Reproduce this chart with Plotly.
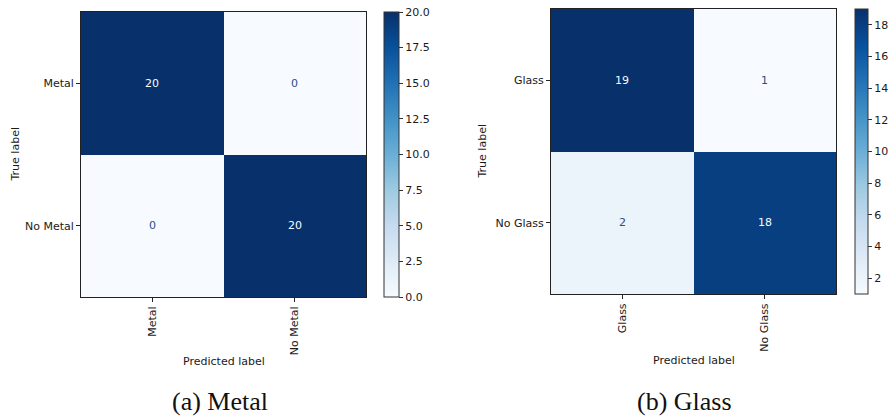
import plotly.graph_objects as go
import plotly.express as px

# Confusion matrices (rows = true label, columns = predicted label)
metal_labels = ["Metal", "No Metal"]
metal_counts = [[20, 0],
                [0, 20]]

glass_labels = ["Glass", "No Glass"]
glass_counts = [[19, 1],
                [2, 18]]

captions = ["(a) Metal", "(b) Glass"]

W, H = 889, 416
BLUES = px.colors.sequential.Blues
FONT = "DejaVu Sans"
TXT = "#1a1a1a"

# pixel boxes of each matrix: (left, right, top, bottom), colorbar (left, thickness)
panels = [
    dict(labels=metal_labels, z=metal_counts, box=(81, 366, 12, 297), cb=(384, 15),
         cbticks=dict(tickmode="linear", tick0=0, dtick=2.5, tickformat=".1f"),
         ylab_x=15, xlab_y=361, cap_x=220),
    dict(labels=glass_labels, z=glass_counts, box=(551, 836, 9, 294), cb=(855, 13),
         cbticks=dict(tickmode="linear", tick0=2, dtick=2),
         ylab_x=482, xlab_y=360, cap_x=684),
]

fig = go.Figure()
annotations = []

for i, p in enumerate(panels, start=1):
    xa = "x" if i == 1 else f"x{i}"
    ya = "y" if i == 1 else f"y{i}"
    l, r, t, b = p["box"]
    flat = [v for row in p["z"] for v in row]
    zmin, zmax = min(flat), max(flat)
    n = len(p["labels"])
    idx = list(range(n))

    fig.add_trace(go.Heatmap(
        z=p["z"], x=idx, y=idx, xaxis=xa, yaxis=ya,
        colorscale=BLUES, zmin=zmin, zmax=zmax, hoverinfo="skip",
        colorbar=dict(
            x=p["cb"][0] / W, xanchor="left", xpad=0,
            y=1 - t / H, yanchor="top", ypad=0,
            len=b - t, lenmode="pixels", thickness=p["cb"][1],
            outlinewidth=1, outlinecolor="#333",
            ticks="outside", ticklen=4, tickcolor="#333",
            tickfont=dict(family=FONT, size=11, color=TXT),
            **p["cbticks"],
        ),
    ))

    axis_common = dict(showline=True, linecolor="#222", linewidth=1, mirror=True,
                       ticks="outside", ticklen=4, tickcolor="#222",
                       tickfont=dict(family=FONT, size=11, color=TXT),
                       showgrid=False, zeroline=False,
                       tickmode="array", tickvals=idx, ticktext=p["labels"])
    fig.layout[("xaxis" if i == 1 else f"xaxis{i}")] = dict(
        domain=[l / W, r / W], anchor=ya, range=[-0.5, n - 0.5],
        tickangle=-90, **axis_common)
    fig.layout[("yaxis" if i == 1 else f"yaxis{i}")] = dict(
        domain=[1 - b / H, 1 - t / H], anchor=xa, range=[n - 0.5, -0.5],
        **axis_common)

    # cell values, light text on dark cells and dark text on light cells
    thresh = (zmin + zmax) / 2
    for ri, row in enumerate(p["z"]):
        for ci, v in enumerate(row):
            annotations.append(dict(
                x=ci, y=ri, xref=xa, yref=ya, text=str(v), showarrow=False,
                font=dict(family=FONT, size=11,
                          color=BLUES[0] if v >= thresh else "#2b4f86")))

    # axis titles
    annotations.append(dict(x=p["ylab_x"] / W, y=1 - ((t + b) / 2) / H, xref="paper",
                            yref="paper", text="True label", textangle=-90,
                            showarrow=False, xanchor="center", yanchor="middle",
                            font=dict(family=FONT, size=11, color=TXT)))
    annotations.append(dict(x=((l + r) / 2) / W, y=1 - p["xlab_y"] / H, xref="paper",
                            yref="paper", text="Predicted label", showarrow=False,
                            xanchor="center", yanchor="middle",
                            font=dict(family=FONT, size=11, color=TXT)))
    # sub-figure caption
    annotations.append(dict(x=p["cap_x"] / W, y=1 - 401 / H, xref="paper", yref="paper",
                            text=captions[i - 1], showarrow=False,
                            xanchor="center", yanchor="middle",
                            font=dict(family="Liberation Serif", size=26, color="#111")))

fig.update_layout(width=W, height=H, margin=dict(l=0, r=0, t=0, b=0),
                  paper_bgcolor="white", plot_bgcolor="white",
                  annotations=annotations, showlegend=False)

fig.write_html("out.html")
